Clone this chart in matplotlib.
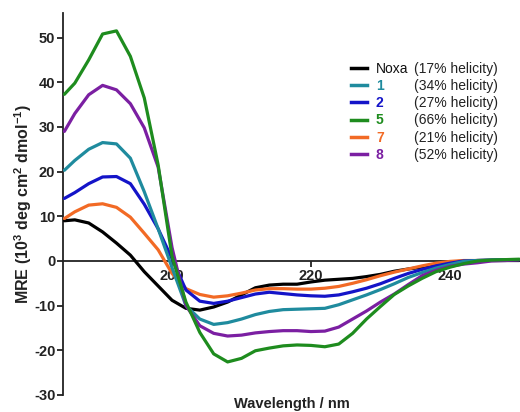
import matplotlib
matplotlib.use("Agg")
import matplotlib.pyplot as plt
from matplotlib.lines import Line2D

plt.rcParams['font.family'] = ['Liberation Sans', 'DejaVu Sans']
plt.rcParams['mathtext.fontset'] = 'custom'
plt.rcParams['mathtext.rm'] = 'Liberation Sans:bold'
plt.rcParams['mathtext.bf'] = 'Liberation Sans:bold'
plt.rcParams['mathtext.default'] = 'bf'
plt.rcParams['axes.unicode_minus'] = False

wavelength = [184.5, 186, 188, 190, 192, 194, 196, 198, 200, 202, 204, 206, 208, 210,
              212, 214, 216, 218, 220, 222, 224, 226, 228, 230, 232, 234, 236, 238,
              240, 242, 244, 246, 248, 250]

noxa = [9.0, 9.2, 8.5, 6.5, 4.0, 1.3, -2.4, -5.6, -8.8, -10.6, -11.0, -10.3, -9.2, -7.6,
        -6.0, -5.4, -5.2, -5.2, -4.7, -4.3, -4.1, -3.9, -3.5, -3.0, -2.3, -1.8, -1.4, -0.9,
        -0.3, 0.0, 0.1, 0.1, 0.1, 0.1]
pep1 = [20.3, 22.5, 25.0, 26.5, 26.2, 23.0, 15.5, 7.2, -1.5, -10.0, -13.0, -14.2, -13.8, -13.0,
        -12.0, -11.3, -10.9, -10.8, -10.7, -10.6, -9.8, -8.7, -7.6, -6.4, -5.1, -3.7, -2.6, -1.6,
        -0.8, -0.1, 0.1, 0.2, 0.3, 0.3]
pep2 = [14.0, 15.3, 17.3, 18.8, 18.9, 17.3, 12.7, 7.2, 0.5, -6.5, -9.0, -9.5, -9.0, -8.2,
        -7.4, -7.0, -7.3, -7.6, -7.8, -7.9, -7.6, -6.9, -6.1, -5.1, -3.9, -2.8, -1.9, -1.1,
        -0.5, 0.0, 0.1, 0.2, 0.3, 0.3]
pep5 = [37.3, 39.8, 45.0, 50.8, 51.5, 45.8, 36.5, 21.5, 1.0, -9.2, -16.0, -20.8, -22.6, -21.8,
        -20.1, -19.5, -19.0, -18.8, -18.9, -19.2, -18.6, -16.2, -13.0, -10.2, -7.5, -5.6, -3.9, -2.4,
        -1.4, -0.6, 0.0, 0.2, 0.3, 0.4]
pep7 = [9.5, 11.0, 12.5, 12.8, 12.0, 9.8, 6.2, 2.5, -2.8, -6.2, -7.5, -8.1, -7.8, -7.2,
        -6.5, -6.2, -6.2, -6.3, -6.3, -6.1, -5.7, -5.0, -4.2, -3.3, -2.5, -1.8, -1.1, -0.5,
        -0.1, 0.1, 0.1, 0.2, 0.3, 0.3]
pep8 = [29.0, 33.0, 37.2, 39.3, 38.3, 35.2, 29.8, 21.0, 3.0, -10.0, -14.5, -16.2, -16.8, -16.6,
        -16.1, -15.8, -15.6, -15.6, -15.8, -15.7, -14.8, -13.0, -11.2, -9.2, -7.4, -5.3, -3.3, -2.1,
        -1.2, -0.7, -0.4, 0.0, 0.1, 0.3]

names = ["Noxa", "1", "2", "5", "7", "8"]
helicity = ["(17% helicity)", "(34% helicity)", "(27% helicity)",
            "(66% helicity)", "(21% helicity)", "(52% helicity)"]
series = [noxa, pep1, pep2, pep5, pep7, pep8]
colors = ["#000000", "#1f8b9e", "#1414c8", "#1e8c1e", "#f26a25", "#7b1fa2"]

yticks = [-30, -20, -10, 0, 10, 20, 30, 40, 50]
xticks = [200, 220, 240]

fig = plt.figure(figsize=(5.2, 4.12), dpi=100)
ax = fig.add_axes([63/520, 17/412, 457/520, 382/412])

order = [0, 4, 2, 1, 5, 3]
for i in order:
    ax.plot(wavelength, series[i], color=colors[i], lw=2.3, zorder=3, solid_capstyle='round')

ax.set_xlim(184.3, 250.1)
ax.set_ylim(-30, 55.5)
ax.set_yticks(yticks)
ax.set_xticks(xticks)

ax.spines['top'].set_visible(False)
ax.spines['right'].set_visible(False)
ax.spines['bottom'].set_position(('data', 0))
for s in ['left', 'bottom']:
    ax.spines[s].set_linewidth(1.3)
    ax.spines[s].set_color('#222222')
ax.tick_params(axis='both', direction='out', length=4, width=1.3, color='#222222',
               labelsize=10.5, pad=1.5)
for lab in ax.get_yticklabels() + ax.get_xticklabels():
    lab.set_fontweight('bold')
    lab.set_color('#222222')

ax.set_ylabel(r"MRE (10$^3$ deg cm$^2$ dmol$^{-1}$)", fontsize=11.5, fontweight='bold',
              color='#222222', labelpad=0)
ax.set_xlabel("Wavelength / nm", fontsize=10.5, fontweight='bold', color='#222222')
ax.xaxis.set_label_coords(0.5, -0.006)

handles = [Line2D([0], [0], color=c, lw=2.5) for c in colors]
leg1 = ax.legend(handles, names, loc='upper left', bbox_to_anchor=(0.630, 0.872),
                 frameon=False, fontsize=10, handlelength=1.15, handletextpad=0.65,
                 labelspacing=0.23, borderpad=0, borderaxespad=0)
for t, c in zip(leg1.get_texts(), colors):
    t.set_color(c if c != "#000000" else "#111111")
    if c != "#000000":
        t.set_fontweight('bold')
ax.add_artist(leg1)

blank = [Line2D([0], [0], color='none', lw=0) for _ in helicity]
leg2 = ax.legend(blank, helicity, loc='upper left', bbox_to_anchor=(0.768, 0.872),
                 frameon=False, fontsize=10, handlelength=0, handletextpad=0,
                 labelspacing=0.23, borderpad=0, borderaxespad=0)
for t in leg2.get_texts():
    t.set_color('#222222')

fig.savefig("out.png", dpi=100)
